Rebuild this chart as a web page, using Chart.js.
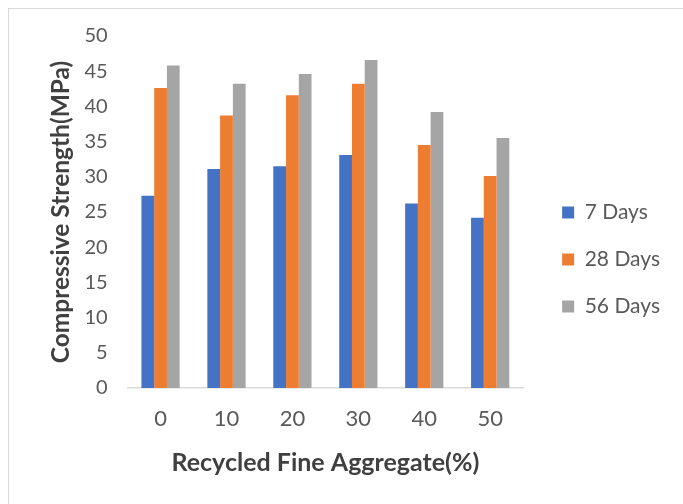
<!DOCTYPE html>
<html>
<head>
<meta charset="utf-8">
<script src="https://cdn.jsdelivr.net/npm/chart.js@4"></script>
<style>
  html, body { margin: 0; padding: 0; background: #ffffff; }
  body { width: 683px; height: 504px; position: relative; overflow: hidden; }
  #frame { position: absolute; left: 8px; top: 8px; width: 720px; height: 540px; border: 1px solid #d9d9d9; box-sizing: border-box; }
  #wrap { position: absolute; left: 0; top: 0; width: 683px; height: 504px; }
</style>
</head>
<body>
<div id="frame"></div>
<div id="wrap"><canvas id="c" width="683" height="504"></canvas></div>
<script>
// Replacement level of recycled fine aggregate (%)
const categories = ['0', '10', '20', '30', '40', '50'];
// Compressive strength (MPa) by curing age
const days7  = [27.3, 31.1, 31.5, 33.1, 26.2, 24.2];
const days28 = [42.6, 38.7, 41.6, 43.2, 34.5, 30.1];
const days56 = [45.8, 43.2, 44.6, 46.6, 39.2, 35.5];
const yTicks = [0, 5, 10, 15, 20, 25, 30, 35, 40, 45, 50];

const textColor = '#595959';
const fontFamily = 'Lato, "Open Sans", sans-serif';

// Leave a wider gap between the plot and the legend column
const legendGap = {
  id: 'legendGap',
  afterLayout(chart) {
    const lg = chart.legend;
    if (lg) { lg.left += 13; lg.right += 13; lg.top += 4; lg.bottom += 4; }
  }
};

new Chart(document.getElementById('c'), {
  type: 'bar',
  data: {
    labels: categories,
    datasets: [
      { label: '7 Days',  data: days7,  backgroundColor: '#4472C4' },
      { label: '28 Days', data: days28, backgroundColor: '#ED7D31' },
      { label: '56 Days', data: days56, backgroundColor: '#A5A5A5' }
    ]
  },
  plugins: [legendGap],
  options: {
    responsive: false,
    animation: false,
    devicePixelRatio: 1,
    layout: { padding: { left: 46, right: 26, top: 36, bottom: 29 } },
    datasets: { bar: { categoryPercentage: 0.58, barPercentage: 1.0 } },
    plugins: {
      tooltip: { enabled: false },
      legend: {
        position: 'right',
        labels: {
          color: textColor,
          font: { family: fontFamily, size: 21 },
          boxWidth: 12,
          boxHeight: 12,
          padding: 26
        }
      }
    },
    scales: {
      x: {
        grid: { display: false, drawTicks: false },
        border: { display: true, color: '#d9d9d9', width: 1.5 },
        ticks: { color: textColor, font: { family: fontFamily, size: 22, lineHeight: 1 }, padding: 20 },
        title: {
          display: true,
          text: 'Recycled Fine Aggregate(%)',
          color: '#404040',
          font: { family: fontFamily, size: 25, weight: 'bold', lineHeight: 1 },
          padding: { top: 0, bottom: 0 }
        }
      },
      y: {
        min: 0,
        max: 50,
        afterBuildTicks: (axis) => { axis.ticks = yTicks.map(v => ({ value: v })); },
        grid: { display: false, drawTicks: false },
        border: { display: false },
        ticks: { color: textColor, font: { family: fontFamily, size: 20 }, padding: 20 },
        title: {
          display: true,
          text: 'Compressive Strength(MPa)',
          color: '#404040',
          font: { family: fontFamily, size: 24.5, weight: 'bold' },
          padding: { top: 0, bottom: -11 }
        }
      }
    }
  }
});
</script>
</body>
</html>
